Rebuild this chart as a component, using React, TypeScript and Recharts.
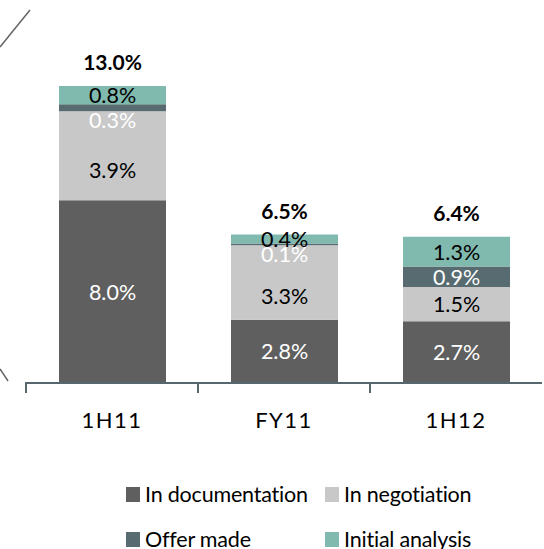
import { BarChart, Bar, XAxis, YAxis, Legend, LabelList } from "recharts";

const categories = ["1H11", "FY11", "1H12"];
const inDocumentation = [8.0, 2.77, 2.7];
const inNegotiation = [3.9, 3.26, 1.5];
const offerMade = [0.3, 0.08, 0.9];
const initialAnalysis = [0.8, 0.39, 1.3];
const totals = [13.0, 6.5, 6.4];

const seriesNames = ["In documentation", "In negotiation", "Offer made", "Initial analysis"];
const COLORS = ["#5f5f5f", "#c8c8c8", "#576b71", "#80b9ad"];
const AXIS = "#56686e";
const FONT = "Lato, Carlito, Calibri, sans-serif";

const WIDTH = 544;
const HEIGHT = 549;
const MARGIN = { top: 86, right: 2, left: 26, bottom: 106 };
const BAND = (WIDTH - MARGIN.left - MARGIN.right) / categories.length;

const data = categories.map((name, i) => ({
  name,
  doc: inDocumentation[i],
  neg: inNegotiation[i],
  offer: offerMade[i],
  initial: initialAnalysis[i],
  total: totals[i],
}));

const fmt = (v: number) => `${v.toFixed(1)}%`;

function segLabel(fill: string, kind: string) {
  return (props: any) => {
    const { x, y, width, height, value, index } = props;
    const cx = x + width / 2;
    let cy = y + height / 2;
    // small segments push their labels down, like the original
    if (kind === "offer" && height < 12) cy = y + height + 9;
    if (kind === "neg" && offerMade[index] < 0.5) cy += 14;
    return (
      <g>
        <text
          x={cx}
          y={cy}
          textAnchor="middle"
          dominantBaseline="central"
          fill={fill}
          fontSize={21.5}
          fontFamily={FONT}
        >
          {fmt(value)}
        </text>
        {kind === "initial" && (
          <text
            x={cx}
            y={y - 16}
            textAnchor="middle"
            fill="#000"
            fontSize={21}
            fontWeight="bold"
            fontFamily={FONT}
          >
            {fmt(totals[index])}
          </text>
        )}
      </g>
    );
  };
}

const AxisTick = (props: any) => {
  const { x, y, payload } = props;
  return (
    <g>
      <line x1={x - BAND / 2} x2={x - BAND / 2} y1={y - 1} y2={y + 10} stroke={AXIS} strokeWidth={2} />
      <text
        x={x}
        y={y + 45}
        textAnchor="middle"
        fill="#000"
        fontSize={22}
        letterSpacing={1.5}
        fontFamily={FONT}
      >
        {payload.value}
      </text>
    </g>
  );
};

const LegendContent = () => {
  const cols = [126, 325];
  return (
    <div style={{ position: "relative", width: WIDTH, height: 67, fontFamily: FONT }}>
      {seriesNames.map((name, i) => (
        <div
          key={name}
          style={{
            position: "absolute",
            left: cols[i % 2],
            top: i < 2 ? 2 : 47,
            display: "flex",
            alignItems: "center",
            height: 20,
            whiteSpace: "nowrap",
          }}
        >
          <span style={{ width: 14, height: 15, background: COLORS[i], marginRight: 5 }} />
          <span style={{ fontSize: 21.5, color: "#000", lineHeight: "20px", letterSpacing: -0.2 }}>
            {name}
          </span>
        </div>
      ))}
    </div>
  );
};

export default function App() {
  return (
    <div style={{ position: "absolute", left: 0, top: 0, width: WIDTH, height: HEIGHT, background: "#fff" }}>
      <BarChart width={WIDTH} height={HEIGHT} data={data} margin={MARGIN} barSize={107}>
        <YAxis hide domain={[0, 13]} />
        <XAxis
          dataKey="name"
          height={60}
          tickSize={0}
          tickMargin={0}
          tickLine={false}
          axisLine={{ stroke: AXIS, strokeWidth: 2 }}
          tick={<AxisTick />}
          interval={0}
        />
        <Legend
          layout="horizontal"
          verticalAlign="middle"
          align="center"
          wrapperStyle={{ top: 482, left: 0, width: WIDTH, height: 67 }}
          content={<LegendContent />}
        />
        <Bar dataKey="doc" name={seriesNames[0]} stackId="a" fill={COLORS[0]} isAnimationActive={false}>
          <LabelList dataKey="doc" content={segLabel("#fff", "doc")} />
        </Bar>
        <Bar dataKey="neg" name={seriesNames[1]} stackId="a" fill={COLORS[1]} isAnimationActive={false}>
          <LabelList dataKey="neg" content={segLabel("#000", "neg")} />
        </Bar>
        <Bar dataKey="offer" name={seriesNames[2]} stackId="a" fill={COLORS[2]} isAnimationActive={false}>
          <LabelList dataKey="offer" content={segLabel("#fff", "offer")} />
        </Bar>
        <Bar dataKey="initial" name={seriesNames[3]} stackId="a" fill={COLORS[3]} isAnimationActive={false}>
          <LabelList dataKey="initial" content={segLabel("#000", "initial")} />
        </Bar>
      </BarChart>
      <svg
        width={WIDTH}
        height={HEIGHT}
        style={{ position: "absolute", left: 0, top: 0, pointerEvents: "none" }}
      >
        <line x1={0} y1={47} x2={30} y2={10} stroke="#666" strokeWidth={1.5} />
        <line x1={0} y1={369} x2={8} y2={381} stroke="#666" strokeWidth={1.5} />
      </svg>
    </div>
  );
}
